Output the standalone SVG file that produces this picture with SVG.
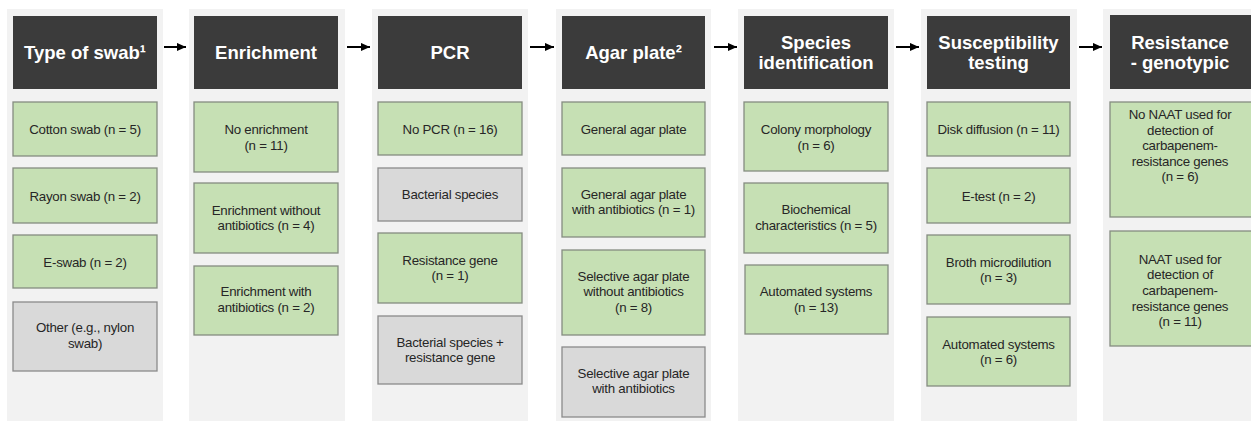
<svg xmlns="http://www.w3.org/2000/svg" width="1251" height="421" viewBox="0 0 1251 421">
<defs>
<marker id="ah" viewBox="0 0 10 10" refX="10" refY="5" markerWidth="4.5" markerHeight="4.5" orient="auto" markerUnits="strokeWidth">
<path d="M0,0.5 L10,5 L0,9.5 Z" fill="#000"/>
</marker>
<style>
.panel{fill:#f2f2f2}
.hdr{fill:#3b3b3b}
.g{fill:#c6e0b4;stroke:#858c80;stroke-width:1.3}
.y{fill:#d9d9d9;stroke:#8a8a8a;stroke-width:1.3}
.ht{font-family:"Liberation Sans",Arial,sans-serif;font-weight:bold;font-size:18.5px;fill:#fff;text-anchor:middle}
.t{font-family:"Liberation Sans",Arial,sans-serif;font-size:13.3px;fill:#262626;text-anchor:middle;letter-spacing:-0.25px}
.arr{stroke:#000;stroke-width:2;fill:none;marker-end:url(#ah)}
</style>
</defs>
<rect width="1251" height="421" fill="#fff"/>

<g id="connectors">
<line class="arr" x1="164" y1="47" x2="186" y2="47"/>
<line class="arr" x1="347" y1="47" x2="370" y2="47"/>
<line class="arr" x1="530" y1="47" x2="554" y2="47"/>
<line class="arr" x1="714" y1="47" x2="737" y2="47"/>
<line class="arr" x1="896" y1="47" x2="919" y2="47"/>
<line class="arr" x1="1079" y1="47" x2="1102" y2="47"/>
</g>

<g id="col1">
<rect class="panel" x="7" y="9" width="156" height="412"/>
<rect class="hdr" x="13" y="16" width="144" height="73"/>
<text class="ht" x="85" y="59">Type of swab¹</text>
<rect class="g" x="13" y="102" width="144" height="54"/>
<text class="t" x="85" y="133.5">Cotton swab (n = 5)</text>
<rect class="g" x="13" y="168" width="144" height="55"/>
<text class="t" x="85" y="201">Rayon swab (n = 2)</text>
<rect class="g" x="13" y="235" width="144" height="53"/>
<text class="t" x="85" y="267">E-swab (n = 2)</text>
<rect class="y" x="13" y="302" width="144" height="69"/>
<text class="t" x="85" y="332">Other (e.g., nylon</text>
<text class="t" x="85" y="348">swab)</text>
</g>

<g id="col2">
<rect class="panel" x="189" y="9" width="156" height="412"/>
<rect class="hdr" x="194" y="16" width="144" height="73"/>
<text class="ht" x="266" y="59">Enrichment</text>
<rect class="g" x="194" y="102" width="144" height="70"/>
<text class="t" x="266" y="133.5">No enrichment</text>
<text class="t" x="266" y="149.5">(n = 11)</text>
<rect class="g" x="194" y="183" width="144" height="70"/>
<text class="t" x="266" y="214.5">Enrichment without</text>
<text class="t" x="266" y="229.5">antibiotics (n = 4)</text>
<rect class="g" x="194" y="266" width="144" height="69"/>
<text class="t" x="266" y="296">Enrichment with</text>
<text class="t" x="266" y="311.5">antibiotics (n = 2)</text>
</g>

<g id="col3">
<rect class="panel" x="372" y="9" width="156" height="412"/>
<rect class="hdr" x="378" y="16" width="144" height="73"/>
<text class="ht" x="450" y="59">PCR</text>
<rect class="g" x="378" y="102" width="144" height="53"/>
<text class="t" x="450" y="133.5">No PCR (n = 16)</text>
<rect class="y" x="378" y="168" width="144" height="53"/>
<text class="t" x="450" y="198.5">Bacterial species</text>
<rect class="g" x="378" y="233" width="144" height="70"/>
<text class="t" x="450" y="264.5">Resistance gene</text>
<text class="t" x="450" y="280">(n = 1)</text>
<rect class="y" x="378" y="316" width="144" height="68"/>
<text class="t" x="450" y="346.5">Bacterial species +</text>
<text class="t" x="450" y="361.5">resistance gene</text>
</g>

<g id="col4">
<rect class="panel" x="556" y="9" width="155" height="412"/>
<rect class="hdr" x="562" y="16" width="143" height="73"/>
<text class="ht" x="633.5" y="59">Agar plate²</text>
<rect class="g" x="562" y="102" width="143" height="53"/>
<text class="t" x="633.5" y="133.5">General agar plate</text>
<rect class="g" x="562" y="168" width="143" height="69"/>
<text class="t" x="633.5" y="198.5">General agar plate</text>
<text class="t" x="633.5" y="213.5">with antibiotics (n = 1)</text>
<rect class="g" x="562" y="250" width="143" height="85"/>
<text class="t" x="633.5" y="280.5">Selective agar plate</text>
<text class="t" x="633.5" y="296">without antibiotics</text>
<text class="t" x="633.5" y="311.5">(n = 8)</text>
<rect class="y" x="562" y="347" width="143" height="70"/>
<text class="t" x="633.5" y="377.5">Selective agar plate</text>
<text class="t" x="633.5" y="392.5">with antibiotics</text>
</g>

<g id="col5">
<rect class="panel" x="738" y="9" width="156" height="412"/>
<rect class="hdr" x="744" y="16" width="144" height="73"/>
<text class="ht" x="816" y="49">Species</text>
<text class="ht" x="816" y="69">identification</text>
<rect class="g" x="744" y="102" width="144" height="69"/>
<text class="t" x="816" y="133.5">Colony morphology</text>
<text class="t" x="816" y="149.5">(n = 6)</text>
<rect class="g" x="744" y="183" width="144" height="70"/>
<text class="t" x="816" y="213.5">Biochemical</text>
<text class="t" x="816" y="229.5">characteristics (n = 5)</text>
<rect class="g" x="745" y="265" width="143" height="69"/>
<text class="t" x="816" y="295.5">Automated systems</text>
<text class="t" x="816" y="311.5">(n = 13)</text>
</g>

<g id="col6">
<rect class="panel" x="921" y="9" width="156" height="412"/>
<rect class="hdr" x="927" y="16" width="143" height="73"/>
<text class="ht" x="998.5" y="49">Susceptibility</text>
<text class="ht" x="998.5" y="69">testing</text>
<rect class="g" x="927" y="102" width="143" height="54"/>
<text class="t" x="998.5" y="133.5">Disk diffusion (n = 11)</text>
<rect class="g" x="927" y="168" width="143" height="55"/>
<text class="t" x="998.5" y="201">E-test (n = 2)</text>
<rect class="g" x="927" y="235" width="143" height="69"/>
<text class="t" x="998.5" y="266.5">Broth microdilution</text>
<text class="t" x="998.5" y="281.5">(n = 3)</text>
<rect class="g" x="927" y="317" width="143" height="69"/>
<text class="t" x="998.5" y="348.5">Automated systems</text>
<text class="t" x="998.5" y="363.5">(n = 6)</text>
</g>

<g id="col7">
<rect class="panel" x="1103" y="9" width="160" height="412"/>
<rect class="hdr" x="1110" y="15" width="150" height="74"/>
<text class="ht" x="1180" y="49">Resistance</text>
<text class="ht" x="1180" y="69">- genotypic</text>
<rect class="g" x="1110" y="102" width="150" height="115"/>
<text class="t" x="1180" y="118.5">No NAAT used for</text>
<text class="t" x="1180" y="134.5">detection of</text>
<text class="t" x="1180" y="149.5">carbapenem-</text>
<text class="t" x="1180" y="165.5">resistance genes</text>
<text class="t" x="1180" y="180.5">(n = 6)</text>
<rect class="g" x="1110" y="231" width="150" height="115"/>
<text class="t" x="1180" y="263.5">NAAT used for</text>
<text class="t" x="1180" y="278.5">detection of</text>
<text class="t" x="1180" y="294.5">carbapenem-</text>
<text class="t" x="1180" y="310.5">resistance genes</text>
<text class="t" x="1180" y="325.5">(n = 11)</text>
</g>
</svg>
